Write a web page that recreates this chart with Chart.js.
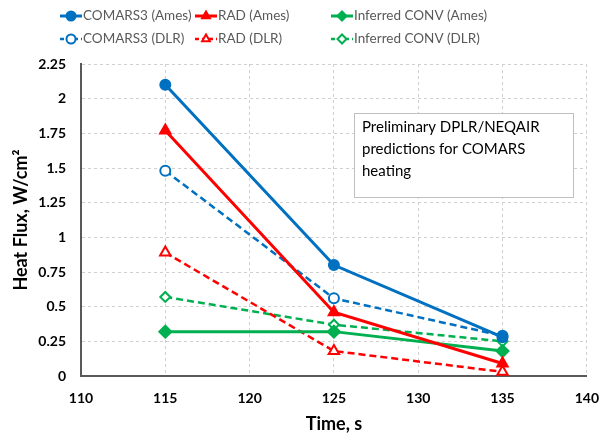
<!DOCTYPE html>
<html>
<head>
<meta charset="utf-8">
<script src="https://cdn.jsdelivr.net/npm/chart.js@4/dist/chart.umd.min.js"></script>
<style>
  html, body { margin: 0; padding: 0; background: #fff; }
  #wrap { position: relative; width: 613px; height: 439px; }
</style>
</head>
<body>
<div id="wrap"><canvas id="myChart"></canvas></div>
<script>
// data
var times = [115, 125, 135];
var comarsAmes = [2.10, 0.80, 0.28];
var radAmes = [1.77, 0.46, 0.09];
var convAmes = [0.32, 0.32, 0.18];
var comarsDlr = [1.48, 0.56, 0.29];
var radDlr = [0.89, 0.18, 0.03];
var convDlr = [0.57, 0.37, 0.25];
var yTicks = [0, 0.25, 0.5, 0.75, 1, 1.25, 1.5, 1.75, 2, 2.25];
var xTicks = [110, 115, 120, 125, 130, 135, 140];
var noteLines = ['Preliminary DPLR/NEQAIR', 'predictions for COMARS', 'heating'];

var blue = '#0070C0', red = '#FF0000', green = '#00B050';
var font = 'Lato, "Open Sans", sans-serif';

function pts(vals) {
  return vals.map(function (v, i) { return {x: times[i], y: v}; });
}

function makeSet(label, vals, color, style, solid) {
  return {
    label: label,
    data: pts(vals),
    borderColor: color,
    backgroundColor: solid ? color : '#fff',
    borderWidth: solid ? 3 : 2.5,
    borderDash: solid ? [] : [7, 4],
    pointStyle: style,
    pointRadius: style == 'triangle' ? 6 : (style == 'rectRot' ? (solid ? 6 : 5) : 5),
    pointBorderColor: color,
    pointBackgroundColor: solid ? color : '#fff',
    pointBorderWidth: 2,
    pointHoverRadius: 5,
    tension: 0,
    clip: false
  };
}

var sets = [
  makeSet('COMARS3 (Ames)', comarsAmes, blue, 'circle', true),
  makeSet('RAD (Ames)', radAmes, red, 'triangle', true),
  makeSet('Inferred CONV (Ames)', convAmes, green, 'rectRot', true),
  makeSet('COMARS3 (DLR)', comarsDlr, blue, 'circle', false),
  makeSet('RAD (DLR)', radDlr, red, 'triangle', false),
  makeSet('Inferred CONV (DLR)', convDlr, green, 'rectRot', false)
];

// legend in 3 columns, 2 rows, plus the note box
var extras = {
  id: 'extras',
  afterDraw: function (chart) {
    var ctx = chart.ctx;
    var cols = [60, 195, 331];
    var rows = [16, 39];
    ctx.save();
    chart.data.datasets.forEach(function (ds, i) {
      var x = cols[i % 3], y = rows[Math.floor(i / 3)];
      ctx.strokeStyle = ds.borderColor;
      ctx.lineWidth = ds.borderWidth;
      ctx.setLineDash(ds.borderDash.length ? [4, 3] : []);
      ctx.beginPath();
      ctx.moveTo(x, y);
      ctx.lineTo(x + 22, y);
      ctx.stroke();
      ctx.setLineDash([]);
      ctx.fillStyle = ds.pointBackgroundColor;
      ctx.strokeStyle = ds.pointBorderColor;
      ctx.lineWidth = 2;
      if (Chart.helpers && Chart.helpers.drawPoint) {
        Chart.helpers.drawPoint(ctx, {pointStyle: ds.pointStyle, radius: 4.5, rotation: 0, borderWidth: 2}, x + 11, y);
      }
      ctx.fillStyle = '#595959';
      ctx.font = '13.5px ' + font;
      ctx.textBaseline = 'middle';
      ctx.textAlign = 'left';
      ctx.fillText(ds.label, x + 23, y);
    });

    // note box
    ctx.fillStyle = '#fff';
    ctx.fillRect(354, 113, 219, 84);
    ctx.strokeStyle = '#BFBFBF';
    ctx.lineWidth = 1;
    ctx.strokeRect(354.5, 113.5, 219, 84);
    ctx.fillStyle = '#000';
    ctx.font = '15px ' + font;
    ctx.textBaseline = 'middle';
    noteLines.forEach(function (t, i) {
      ctx.fillText(t, 362, 127 + i * 22);
    });
    ctx.restore();
  }
};

var ctx = document.getElementById('myChart').getContext('2d');
var chart = new Chart(ctx, {
  type: 'line',
  data: { datasets: sets },
  options: {
    responsive: true,
    maintainAspectRatio: false,
    animation: false,
    layout: { padding: { top: 64, right: 20, left: 0, bottom: 0 } },
    plugins: {
      legend: { display: false },
      tooltip: { enabled: false }
    },
    scales: {
      x: {
        type: 'linear',
        min: 110,
        max: 140,
        afterBuildTicks: function (s) { s.ticks = xTicks.map(function (v) { return {value: v}; }); },
        afterFit: function (s) { s.height = 63; },
        grid: { color: '#D0D0D0', drawTicks: false, tickLength: 0 },
        border: { display: true, color: '#595959', width: 2, dash: [3, 3] },
        ticks: { color: '#000', padding: 14, font: { family: font, size: 14, weight: 'bold' },
          callback: function (v) { return String(v); } },
        title: { display: true, text: 'Time, s', color: '#000', padding: { top: 2 }, font: { family: font, size: 18, weight: 'bold' } }
      },
      y: {
        min: 0,
        max: 2.25,
        afterBuildTicks: function (s) { s.ticks = yTicks.map(function (v) { return {value: v}; }); },
        afterFit: function (s) { s.width = 81; },
        grid: { color: '#D0D0D0', drawTicks: false, tickLength: 0 },
        border: { display: true, color: '#595959', width: 2, dash: [3, 3] },
        ticks: { color: '#000', padding: 15, font: { family: font, size: 14, weight: 'bold' },
          callback: function (v) { return String(v); } },
        title: { display: true, text: 'Heat Flux, W/cm\u00B2', color: '#000', padding: { top: 10, bottom: 0 }, font: { family: font, size: 18, weight: 'bold' } }
      }
    }
  },
  plugins: [extras]
});
</script>
</body>
</html>
